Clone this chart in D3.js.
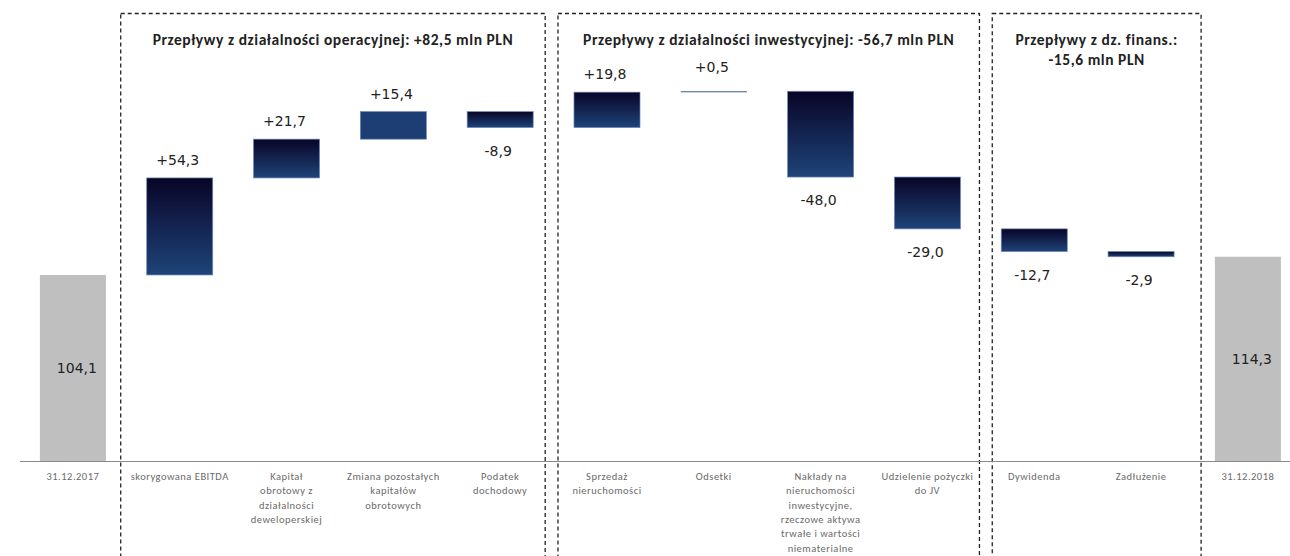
<!DOCTYPE html>
<html>
<head>
<meta charset="utf-8">
<script src="https://cdn.jsdelivr.net/npm/d3@7"></script>
<style>
  html, body { margin: 0; padding: 0; background: #fff; }
  #canvas { width: 1290px; height: 556px; }
</style>
</head>
<body>
<div id="canvas"></div>
<script>
// data
let categories = [
  "31.12.2017",
  "skorygowana EBITDA",
  "Kapitał\nobrotowy z\ndziałalności\ndeweloperskiej",
  "Zmiana pozostałych\nkapitałów\nobrotowych",
  "Podatek\ndochodowy",
  "Sprzedaż\nnieruchomości",
  "Odsetki",
  "Nakłady na\nnieruchomości\ninwestycyjne,\nrzeczowe aktywa\ntrwałe i wartości\nniematerialne",
  "Udzielenie pożyczki\ndo JV",
  "Dywidenda",
  "Zadłużenie",
  "31.12.2018",
];
let values = [104.1, 54.3, 21.7, 15.4, -8.9, 19.8, 0.5, -48.0, -29.0, -12.7, -2.9, 114.3];
let isTotal = [true, false, false, false, false, false, false, false, false, false, false, true];

let groupTitles = [
  ["Przepływy z działalności operacyjnej: +82,5 mln PLN"],
  ["Przepływy z działalności inwestycyjnej: -56,7 mln PLN"],
  ["Przepływy z dz. finans.:", "-15,6 mln PLN"],
];
let groupFirst = [1, 5, 9];
let groupLast = [4, 8, 10];

let fmt = (v) => v.toFixed(1).replace(".", ",");

let width = 1290, height = 556;
let svg = d3
  .select("#canvas")
  .append("svg")
  .attr("width", width)
  .attr("height", height)
  .style("background", "#fff")
  .style("font-family", "Carlito, Lato, 'Open Sans', sans-serif");

// running totals for the waterfall
let run = 0;
let bars = categories.map((c, i) => {
  let d;
  if (isTotal[i]) {
    d = { i, name: c, v: values[i], y0: 0, y1: values[i], total: true };
    run = values[i];
  } else {
    d = { i, name: c, v: values[i], y0: run, y1: run + values[i], total: false };
    run += values[i];
  }
  return d;
});

let baseY = 461;
let x = d3.scaleBand().domain(d3.range(categories.length)).range([19.6, 1301.2]).paddingInner(0.382).paddingOuter(0.19);
let y = d3.scaleLinear().domain([0, 258]).range([baseY, baseY - 258 * 1.787]);

let defs = svg.append("defs");
let grad = defs.append("linearGradient").attr("id", "blueGrad").attr("x1", 0).attr("y1", 0).attr("x2", 0).attr("y2", 1);
grad.append("stop").attr("offset", "0%").attr("stop-color", "#090427");
grad.append("stop").attr("offset", "100%").attr("stop-color", "#1e4479");

// dashed group boxes
let boxPad = [[26, 12], [16, 19], [9, 27]];
let boxes = svg.append("g");
groupFirst.forEach((f, g) => {
  let l = x(f) - boxPad[g][0];
  let r = x(groupLast[g]) + x.bandwidth() + boxPad[g][1];
  boxes.append("rect")
    .attr("x", l).attr("y", 13.5)
    .attr("width", r - l).attr("height", 600)
    .attr("fill", "none")
    .attr("stroke", "#222")
    .attr("stroke-width", 1.3)
    .attr("stroke-dasharray", "4,3");
  let t = boxes.append("text")
    .attr("x", (l + r) / 2)
    .attr("y", 45)
    .attr("text-anchor", "middle")
    .attr("font-size", 15.5)
    .attr("letter-spacing", 0.55)
    .attr("font-weight", "bold")
    .attr("fill", "#222");
  groupTitles[g].forEach((line, k) => {
    t.append("tspan").attr("x", (l + r) / 2).attr("dy", k === 0 ? 0 : 20).text(line);
  });
});

// axis baseline
svg.append("line")
  .attr("x1", 20).attr("x2", 1290)
  .attr("y1", baseY + 0.5).attr("y2", baseY + 0.5)
  .attr("stroke", "#8a8a8a").attr("stroke-width", 1.2);

// bars
svg.append("g")
  .selectAll("rect")
  .data(bars)
  .join("rect")
  .attr("x", (d) => x(d.i))
  .attr("width", x.bandwidth())
  .attr("y", (d) => y(Math.max(d.y0, d.y1)))
  .attr("height", (d) => Math.max(1, Math.abs(y(d.y0) - y(d.y1))))
  .attr("fill", (d) => (d.total ? "#bfbfbf" : d.i === 3 ? "#1c3e74" : d.i === 6 ? "#3b5a8e" : "url(#blueGrad)"))
  .attr("stroke", (d) => (d.total || d.i === 6 ? "none" : "#6d87b6"))
  .attr("stroke-width", 0.7);

// value labels
svg.append("g")
  .selectAll("text")
  .data(bars)
  .join("text")
  .attr("x", (d) => x(d.i) + x.bandwidth() / 2 + (d.total ? 4 : -2))
  .attr("y", (d) => {
    if (d.total) return y(d.v / 2) + 5;
    if (d.v > 0) return y(d.y1) - (d.i === 6 ? 19 : 13);
    return y(d.y1) + 28;
  })
  .attr("text-anchor", "middle")
  .attr("font-family", "'DejaVu Sans', Verdana, sans-serif")
  .attr("font-size", 14)
  .attr("fill", "#222")
  .text((d) => (d.total ? fmt(d.v) : (d.v > 0 ? "+" : "") + fmt(d.v)));

// category labels
let cat = svg.append("g")
  .selectAll("text")
  .data(bars)
  .join("text")
  .attr("x", (d) => x(d.i) + x.bandwidth() / 2)
  .attr("y", baseY + 19)
  .attr("text-anchor", "middle")
  .attr("font-size", 10.5)
  .attr("letter-spacing", 0.5)
  .attr("fill", "#6a6a6a");
cat.each(function (d) {
  let el = d3.select(this);
  d.name.split("\n").forEach((line, k) => {
    el.append("tspan").attr("x", x(d.i) + x.bandwidth() / 2).attr("dy", k === 0 ? 0 : 14.3).text(line);
  });
});
</script>
</body>
</html>
